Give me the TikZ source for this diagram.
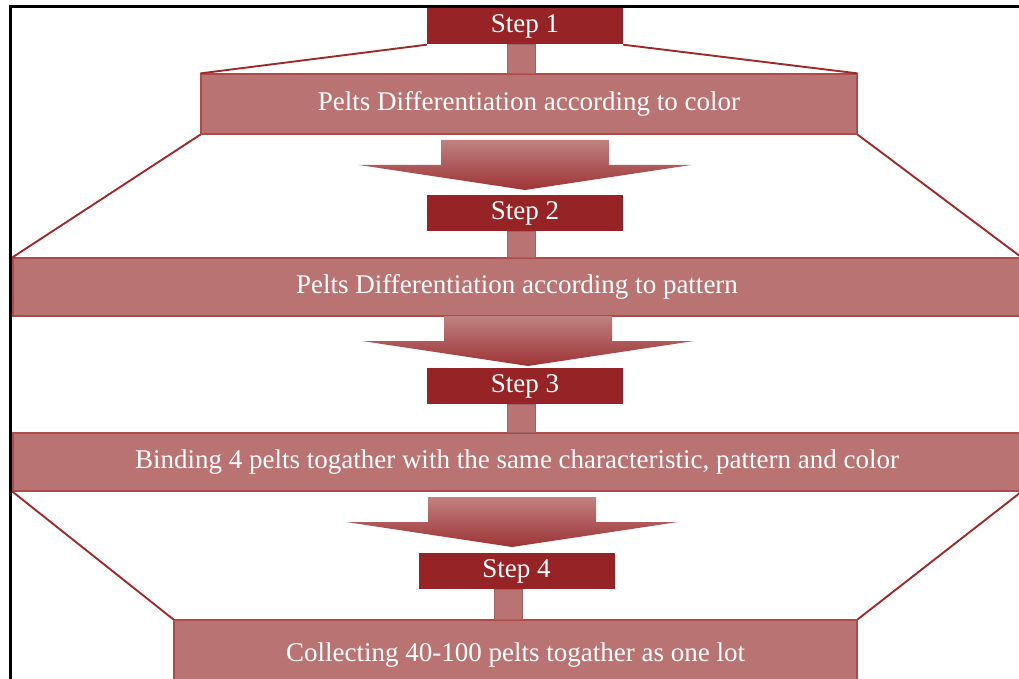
\documentclass[tikz,border=0pt]{standalone}
\usepackage{fontspec}
\setmainfont{Liberation Serif}
\definecolor{stepred}{HTML}{962426}
\definecolor{boxred}{HTML}{BA7373}
\definecolor{linered}{HTML}{9E2B2B}
\tikzset{stepbox/.style={fill=stepred, text=white, inner sep=0pt, minimum width=196pt, minimum height=36pt, font=\fontsize{27}{27}\selectfont}}
\tikzset{mainbox/.style={fill=boxred, draw=linered!85, line width=1.2pt, text=white, inner sep=0pt, font=\fontsize{27}{27}\selectfont}}
\tikzset{stem/.style={fill=boxred, draw=boxred!85!black, line width=0.8pt}}
\tikzset{link/.style={draw=linered, line width=1.9pt}}
\tikzset{downarrow/.pic={
    \shade[top color=boxred!90!white, bottom color=stepred!80!boxred]
        (-84,0) -- (84,0) -- (84,25) -- (166,25) -- (0,50) -- (-166,25) -- (-84,25) -- cycle;}}

\begin{document}
\begin{tikzpicture}[x=1pt, y=-1pt]
    \clip (0,0) rectangle (1019,679);
    \fill[white] (0,0) rectangle (1019,679);
    \draw [line width=3pt] (10,7) rectangle (1040,700);

    \node [stepbox] (s1) at (525,26.5) {Step 1};
    \node [mainbox, minimum width=656pt, minimum height=60pt] (b1) at (529,104) {Pelts Differentiation according to color};
    \node [stepbox] (s2) at (525,213) {Step 2};
    \node [mainbox, minimum width=1008pt, minimum height=58pt] (b2) at (517,287) {Pelts Differentiation according to pattern};
    \node [stepbox] (s3) at (525,386) {Step 3};
    \node [mainbox, minimum width=1008pt, minimum height=58pt] (b3) at (517,462) {Binding 4 pelts togather with the same characteristic, pattern and color};
    \node [stepbox] (s4) at (516.5,571) {Step 4};
    \node [mainbox, minimum width=683pt, minimum height=70pt] (b4) at (515.5,655) {Collecting 40-100 pelts togather as one lot};

    % stems
    \filldraw [stem] ([xshift=-18pt]s1.south) rectangle ([xshift=10pt]s1.south |- b1.north);
    \filldraw [stem] ([xshift=-18pt]s2.south) rectangle ([xshift=10pt]s2.south |- b2.north);
    \filldraw [stem] ([xshift=-18pt]s3.south) rectangle ([xshift=10pt]s3.south |- b3.north);
    \filldraw [stem] ([xshift=-22pt]s4.south) rectangle ([xshift=6pt]s4.south |- b4.north);

    % side lines
    \draw [link] (s1.south west) -- (b1.north west);
    \draw [link] (s1.south east) -- (b1.north east);
    \draw [link] (b1.south west) -- (b2.north west);
    \draw [link] (b1.south east) -- (b2.north east);
    \draw [link] (b3.south west) -- (b4.north west);
    \draw [link] (b3.south east) -- (b4.north east);

    % block arrows
    \pic at (525,140) {downarrow};
    \pic at (528,316) {downarrow};
    \pic at (512,497) {downarrow};
\end{tikzpicture}
\end{document}
